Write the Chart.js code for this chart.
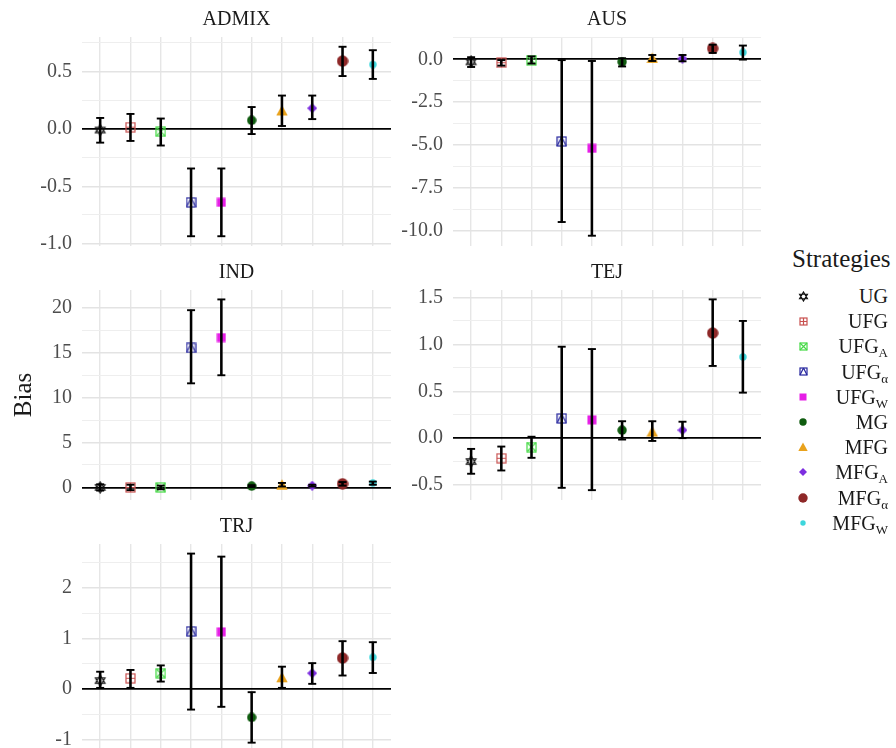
<!DOCTYPE html>
<html>
<head>
<meta charset="utf-8">
<script src="https://cdn.jsdelivr.net/npm/chart.js@4"></script>
<style>
  html, body { margin: 0; padding: 0; background: #fff; }
  body { width: 896px; height: 748px; position: relative; overflow: hidden; font-family: "Liberation Serif", serif; }
  canvas.panel { position: absolute; }
  #legend { position: absolute; left: 780px; top: 244px; width: 112px; color: #1a1a1a; }
  #legend .ttl { position: absolute; left: 12px; top: 0; font-size: 25px; line-height: 30px; white-space: nowrap; }
  #legend .row { position: absolute; left: 0; width: 108px; height: 24px; }
  #legend .row canvas { position: absolute; }
  #legend .row span { position: absolute; right: 0; top: 0; font-size: 20px; line-height: 24px; white-space: nowrap; }
  #legend sub { font-size: 13px; vertical-align: -4px; line-height: 0; }
</style>
</head>
<body>
<canvas id="admix" class="panel" width="400" height="255" style="left:0;top:0"></canvas>
<canvas id="aus" class="panel" width="400" height="255" style="left:380px;top:0"></canvas>
<canvas id="ind" class="panel" width="400" height="256" style="left:0;top:253px"></canvas>
<canvas id="tej" class="panel" width="400" height="256" style="left:380px;top:253px"></canvas>
<canvas id="trj" class="panel" width="400" height="254" style="left:0;top:507px"></canvas>
<div id="legend"><div class="ttl">Strategies</div></div>
<script>
const strategies = ["UG", "UFG", "UFG_A", "UFG_α", "UFG_W", "MG", "MFG", "MFG_A", "MFG_α", "MFG_W"];

// ADMIX
const admixBias = [-0.01, 0.015, -0.025, -0.64, -0.64, 0.075, 0.16, 0.18, 0.59, 0.56];
const admixLow = [-0.12, -0.105, -0.145, -0.935, -0.935, -0.045, 0.025, 0.085, 0.46, 0.435];
const admixHigh = [0.095, 0.13, 0.09, -0.345, -0.345, 0.19, 0.29, 0.29, 0.715, 0.685];
const admixRange = [-1.02, 0.8];

// AUS
const ausBias = [-0.15, -0.2, -0.05, -4.8, -5.2, -0.15, 0.08, 0.04, 0.63, 0.4];
const ausLow = [-0.45, -0.37, -0.25, -9.5, -10.3, -0.42, -0.1, -0.12, 0.37, -0.02];
const ausHigh = [0.12, -0.05, 0.17, -0.05, -0.1, 0.06, 0.25, 0.25, 0.85, 0.8];
const ausRange = [-10.9, 1.3];

// IND
const indBias = [0.0, 0.0, 0.0, 15.55, 16.7, 0.15, 0.3, 0.2, 0.4, 0.5];
const indLow = [-0.35, -0.3, -0.2, 11.6, 12.5, 0.05, 0.1, 0.1, 0.2, 0.3];
const indHigh = [0.35, 0.3, 0.2, 19.75, 20.95, 0.25, 0.5, 0.3, 0.6, 0.65];
const indRange = [-1.4, 22.0];

// TEJ
const tejBias = [-0.25, -0.215, -0.095, 0.21, 0.195, 0.085, 0.07, 0.085, 1.12, 0.865];
const tejLow = [-0.38, -0.345, -0.21, -0.53, -0.555, -0.015, -0.03, 0.0, 0.77, 0.485];
const tejHigh = [-0.115, -0.09, 0.015, 0.975, 0.95, 0.18, 0.18, 0.175, 1.48, 1.25];
const tejRange = [-0.66, 1.58];

// TRJ
const trjBias = [0.165, 0.21, 0.31, 1.14, 1.13, -0.565, 0.23, 0.31, 0.61, 0.625];
const trjLow = [0.02, 0.02, 0.145, -0.41, -0.355, -1.065, 0.02, 0.1, 0.265, 0.315];
const trjHigh = [0.34, 0.375, 0.465, 2.68, 2.62, -0.065, 0.44, 0.51, 0.945, 0.925];
const trjRange = [-1.25, 2.87];

// marker look for each strategy: [shape, colour, size]
const markerSpec = [
  ["star6", "#111111", 13],
  ["squarePlus", "#c8504f", 11],
  ["squareX", "#45d945", 11],
  ["squareTri", "#26269e", 11],
  ["square", "#e61ee6", 10],
  ["circle", "#0f5c0f", 10],
  ["triangle", "#e9a21c", 12],
  ["diamond", "#7d2ee0", 10],
  ["circle", "#8e2828", 12],
  ["circle", "#3dd6dc", 8],
];

const FONT = "'Liberation Serif', 'Times New Roman', serif";

const makeMarker = (kind, color, size) => {
  const c = document.createElement("canvas");
  c.width = size;
  c.height = size;
  const g = c.getContext("2d");
  const m = size / 2;
  const r = size / 2 - 1;
  g.strokeStyle = color;
  g.fillStyle = color;
  g.lineWidth = 1.2;
  if (kind === "star6") {
    g.beginPath();
    g.moveTo(m, m - r);
    g.lineTo(m + r * 0.87, m + r * 0.5);
    g.lineTo(m - r * 0.87, m + r * 0.5);
    g.closePath();
    g.moveTo(m, m + r);
    g.lineTo(m + r * 0.87, m - r * 0.5);
    g.lineTo(m - r * 0.87, m - r * 0.5);
    g.closePath();
    g.stroke();
  } else if (kind.startsWith("square") && kind !== "square") {
    g.strokeRect(1, 1, size - 2, size - 2);
    g.beginPath();
    if (kind === "squarePlus") {
      g.moveTo(m, 1); g.lineTo(m, size - 1);
      g.moveTo(1, m); g.lineTo(size - 1, m);
    } else if (kind === "squareX") {
      g.moveTo(1, 1); g.lineTo(size - 1, size - 1);
      g.moveTo(size - 1, 1); g.lineTo(1, size - 1);
    } else {
      g.moveTo(m, 1); g.lineTo(size - 1, size - 1);
      g.moveTo(m, 1); g.lineTo(1, size - 1);
    }
    g.stroke();
  } else if (kind === "square") {
    g.fillRect(0.5, 0.5, size - 1, size - 1);
  } else if (kind === "circle") {
    g.beginPath();
    g.arc(m, m, m - 0.3, 0, Math.PI * 2);
    g.fill();
  } else if (kind === "triangle") {
    g.beginPath();
    g.moveTo(m, 0.5);
    g.lineTo(size - 0.3, size - 1);
    g.lineTo(0.3, size - 1);
    g.closePath();
    g.fill();
  } else if (kind === "diamond") {
    g.beginPath();
    g.moveTo(m, 0); g.lineTo(size, m); g.lineTo(m, size); g.lineTo(0, m);
    g.closePath();
    g.fill();
  }
  return c;
};

const markers = markerSpec.map((s) => makeMarker(s[0], s[1], s[2]));

const isMultiple = (v, step) => Math.abs(v / step - Math.round(v / step)) < 1e-6;

const makePanel = (id, title, bias, low, high, range, step, decimals, side, yTitle) => {
  const xs = strategies.map((s, i) => i + 1);
  const yWidth = side === "left" ? 82 : 73;
  const padRight = side === "left" ? 9 : 19;
  const config = {
    type: "bar",
    data: {
      datasets: [
        {
          type: "bar",
          data: xs.map((x, i) => ({ x: x, y: [low[i], high[i]] })),
          backgroundColor: "#000",
          borderWidth: 0,
          barThickness: 1.9,
          order: 0,
        },
        {
          type: "scatter",
          data: xs.map((x, i) => ({ x: x, y: low[i] })),
          pointStyle: "line",
          pointRadius: 4,
          borderColor: "#000",
          borderWidth: 1.9,
          order: 0,
        },
        {
          type: "scatter",
          data: xs.map((x, i) => ({ x: x, y: high[i] })),
          pointStyle: "line",
          pointRadius: 4,
          borderColor: "#000",
          borderWidth: 1.9,
          order: 0,
        },
        {
          type: "scatter",
          data: xs.map((x, i) => ({ x: x, y: bias[i] })),
          pointStyle: markers,
          pointRadius: 5,
          order: 1,
        },
      ],
    },
    options: {
      responsive: false,
      animation: false,
      layout: { autoPadding: false, padding: { left: 0, right: padRight, top: 0, bottom: 9 } },
      plugins: {
        legend: { display: false },
        tooltip: { enabled: false },
        title: {
          display: true,
          text: title,
          fullSize: false,
          color: "#1a1a1a",
          font: { family: FONT, size: 20, weight: "normal", lineHeight: 1.2 },
          padding: { top: 8, bottom: 5 },
        },
      },
      scales: {
        x: {
          type: "linear",
          min: 0.4,
          max: 10.6,
          offset: false,
          border: { display: false },
          grid: { offset: false, drawTicks: false, color: "#e6e6e6", lineWidth: 1.4 },
          ticks: { display: false, stepSize: 1, includeBounds: false },
          afterFit: (scale) => {
            scale.height = 0;
            scale.paddingLeft = 0;
            scale.paddingRight = 0;
          },
        },
        y: {
          min: range[0],
          max: range[1],
          border: { display: false },
          grid: {
            drawTicks: false,
            color: (ctx) => {
              const v = ctx.tick ? ctx.tick.value : 1;
              if (Math.abs(v) < 1e-9) return "#000";
              return isMultiple(v, step) ? "#e3e3e3" : "#eeeeee";
            },
            lineWidth: (ctx) => {
              const v = ctx.tick ? ctx.tick.value : 1;
              if (Math.abs(v) < 1e-9) return 1.7;
              return isMultiple(v, step) ? 1.4 : 1.1;
            },
          },
          ticks: {
            stepSize: step / 2,
            includeBounds: false,
            autoSkip: false,
            padding: 10,
            color: "#4d4d4d",
            font: { family: FONT, size: 20 },
            callback: (v) => (isMultiple(v, step) ? Number(v).toFixed(decimals) : ""),
          },
          title: {
            display: !!yTitle,
            text: yTitle || "",
            color: "#1a1a1a",
            font: { family: FONT, size: 25 },
            padding: { top: 9, bottom: 0 },
          },
          afterFit: (scale) => {
            scale.width = yWidth;
            scale.paddingTop = 0;
            scale.paddingBottom = 0;
          },
        },
      },
    },
  };
  return new Chart(document.getElementById(id), config);
};

makePanel("admix", "ADMIX", admixBias, admixLow, admixHigh, admixRange, 0.5, 1, "left");
makePanel("aus", "AUS", ausBias, ausLow, ausHigh, ausRange, 2.5, 1, "right");
makePanel("ind", "IND", indBias, indLow, indHigh, indRange, 5, 0, "left", "Bias");
makePanel("tej", "TEJ", tejBias, tejLow, tejHigh, tejRange, 0.5, 1, "right");
makePanel("trj", "TRJ", trjBias, trjLow, trjHigh, trjRange, 1, 0, "left");

// legend
const legend = document.getElementById("legend");
strategies.forEach((s, i) => {
  const row = document.createElement("div");
  row.className = "row";
  row.style.top = 40 + i * 25.2 + "px";
  const spec = markerSpec[i];
  const icon = makeMarker(spec[0], spec[1], spec[2] - 2);
  icon.style.top = 12 - icon.height / 2 + "px";
  icon.style.left = 23 - icon.width / 2 + "px";
  row.appendChild(icon);
  const label = document.createElement("span");
  const parts = s.split("_");
  label.innerHTML = parts[0] + (parts[1] ? "<sub>" + parts[1] + "</sub>" : "");
  row.appendChild(label);
  legend.appendChild(row);
});
</script>
</body>
</html>
